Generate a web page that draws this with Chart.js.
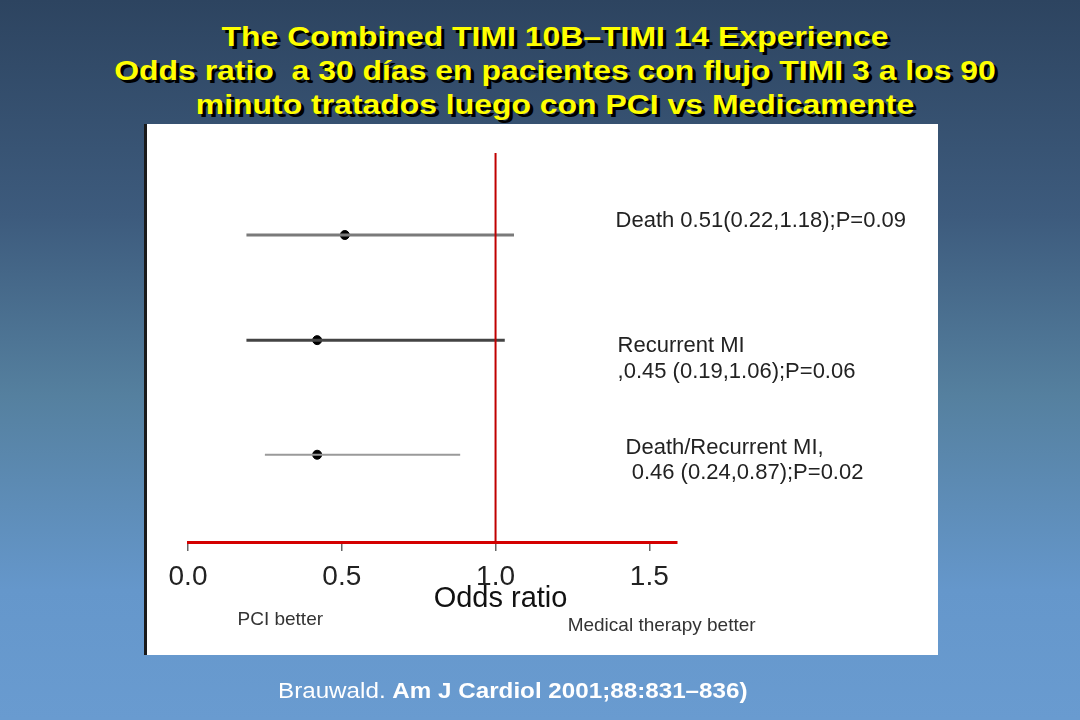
<!DOCTYPE html>
<html lang="es">
<head>
  <meta charset="UTF-8" />
  <title>TIMI 10B–TIMI 14 Odds ratio</title>
  <script src="https://cdn.jsdelivr.net/npm/chart.js"></script>
  <style>
    html, body { margin: 0; padding: 0; }
    body {
      width: 1080px; height: 720px; overflow: hidden; position: relative;
      background: linear-gradient(180deg, #2d4460 0%, #3d5b7d 30%, #55809f 55%, #6597cb 82%, #699bd0 100%);
      font-family: Arial, "Liberation Sans", sans-serif;
    }
    #titulo {
      position: absolute; left: 0; top: 20px; width: 1110px; text-align: center;
      color: #ffff00; font-weight: bold; font-size: 28px; line-height: 34px;
      text-shadow: 3px 3px 0 #000;
      transform: scaleX(1.14); transform-origin: 555px 0;
    }
    #panel {
      position: absolute; left: 144px; top: 124px; width: 794px; height: 531px;
      background: #fff; border-left: 3px solid #1a1a1a; box-sizing: border-box;
    }
    #chart { position: absolute; left: 0; top: 0; }
    #fuente {
      position: absolute; left: 278px; top: 678px; color: #fff; font-size: 22px;
      white-space: nowrap; transform: scaleX(1.1); transform-origin: 0 0;
    }
  </style>
</head>
<body>
  <div id="titulo">
    The Combined TIMI 10B–TIMI 14 Experience<br>
    Odds ratio&nbsp; a 30 días en pacientes con flujo TIMI 3 a los 90<br>
    minuto tratados luego con PCI vs Medicamente
  </div>
  <div id="panel"></div>
  <canvas id="chart" width="1080" height="720"></canvas>
  <div id="fuente">Brauwald. <b>Am J Cardiol 2001;88:831–836)</b></div>

  <script>
    // datos
    const categorias = ['Death', 'Recurrent MI', 'Death/Recurrent MI'];
    const oddsRatio = [0.51, 0.42, 0.42];
    const icBajo = [0.19, 0.19, 0.25];
    const icAlto = [1.06, 1.03, 0.885];
    const filaY = [2.92, 1.92, 0.83];
    const etiquetas = [
      ['Death 0.51(0.22,1.18);P=0.09'],
      ['Recurrent MI', ',0.45 (0.19,1.06);P=0.06'],
      ['Death/Recurrent MI,', ' 0.46 (0.24,0.87);P=0.02']
    ];
    const xTicks = [0, 0.5, 1.0, 1.5];

    const coloresIC = ['#7a7a7a', '#444444', '#9a9a9a'];
    const anchoIC = [3, 3, 2];

    const datasets = [];
    // linea de referencia OR = 1
    datasets.push({
      type: 'line', data: [{ x: 1, y: 0 }, { x: 1, y: 3.7 }],
      borderColor: '#c00000', borderWidth: 2, pointRadius: 0
    });
    categorias.forEach((c, i) => {
      datasets.push({
        type: 'line', label: c,
        data: [{ x: icBajo[i], y: filaY[i] }, { x: icAlto[i], y: filaY[i] }],
        borderColor: coloresIC[i], borderWidth: anchoIC[i], pointRadius: 0
      });
    });
    datasets.push({
      type: 'scatter',
      data: oddsRatio.map((v, i) => ({ x: v, y: filaY[i] })),
      backgroundColor: '#000', borderColor: '#000', pointRadius: 4.5
    });

    // textos sobre el grafico
    const textos = {
      id: 'textos',
      afterDraw(chart) {
        const ctx = chart.ctx;
        const xs = chart.scales.x, ys = chart.scales.y;
        const x1 = xs.getPixelForValue(1);
        ctx.save();
        ctx.fillStyle = '#222';
        ctx.textBaseline = 'middle';
        ctx.font = '22px Arial, "Liberation Sans"';
        const offX = [120, 122, 130];
        const offY = [[-14], [6, 32], [-7, 18]];
        etiquetas.forEach((lineas, i) => {
          const y0 = ys.getPixelForValue(filaY[i]);
          lineas.forEach((t, j) => {
            ctx.fillText(t, x1 + offX[i], y0 + offY[i][j]);
          });
        });
        ctx.textAlign = 'center';
        ctx.font = '29px Arial, "Liberation Sans"';
        ctx.fillStyle = '#111';
        ctx.fillText('Odds ratio', x1 + 5, xs.top + 57);
        ctx.font = '19px Arial, "Liberation Sans"';
        ctx.fillStyle = '#333';
        ctx.fillText('PCI better', xs.getPixelForValue(0.30), xs.top + 78);
        ctx.fillText('Medical therapy better', xs.getPixelForValue(1.54), xs.top + 84);
        ctx.restore();
      }
    };

    new Chart(document.getElementById('chart'), {
      data: { datasets },
      options: {
        responsive: false,
        animation: false,
        events: [],
        layout: { padding: { left: 188, right: 403, top: 153, bottom: 108 } },
        plugins: { legend: { display: false }, tooltip: { enabled: false } },
        scales: {
          x: {
            type: 'linear', min: 0, max: 1.59,
            afterBuildTicks: s => { s.ticks = xTicks.map(v => ({ value: v })); },
            afterFit: s => { s.height = 70; },
            border: { display: true, color: '#d40000', width: 3 },
            grid: { drawOnChartArea: false, drawTicks: true, tickLength: 9, color: '#666', lineWidth: 1.5 },
            ticks: {
              color: '#222', padding: 9,
              font: { size: 28, family: 'Arial, "Liberation Sans"' },
              callback: v => v.toFixed(1)
            }
          },
          y: { type: 'linear', min: 0, max: 3.7, display: false }
        }
      },
      plugins: [textos]
    });
  </script>
</body>
</html>
